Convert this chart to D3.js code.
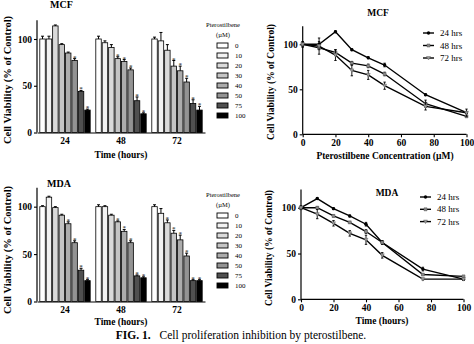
<!DOCTYPE html>
<html>
<head>
<meta charset="utf-8">
<script src="https://cdn.jsdelivr.net/npm/d3@7.9.0/dist/d3.min.js"></script>
<style>
  body { margin: 0; background: #fff; }
  svg { display: block; font-family: "Liberation Serif", "DejaVu Serif", serif; }
</style>
</head>
<body>
<svg id="fig" width="474" height="344"></svg>
<script>
// concentrations of pterostilbene (uM) and time points (hours)
const concentrations = [0, 10, 20, 30, 40, 50, 75, 100];
const times = [24, 48, 72];

// MCF cell viability (% of control)
const mcf24 = [100, 100, 114, 94, 85, 77, 44, 24];
const mcf48 = [100, 96, 91, 79, 76, 67, 34, 20];
const mcf72 = [100, 98, 88, 71, 66, 54, 31, 24];
const mcfErr24 = [3, 3, 1, 1, 1, 2, 1, 1];
const mcfErr48 = [3, 2, 3, 2, 2, 2, 4, 1];
const mcfErr72 = [2, 9, 6, 6, 5, 4, 4, 4];
const mcfStars24 = [50, 75, 100];
const mcfStars48 = [30, 40, 50, 75, 100];
const mcfStars72 = [30, 40, 50, 75, 100];

// MDA cell viability
const mda24 = [100, 110, 99, 91, 82, 62, 33, 22];
const mda48 = [100, 100, 91, 84, 74, 62, 27, 25];
const mda72 = [100, 93, 83, 72, 65, 48, 22, 22];
const mdaErr24 = [1, 1, 1, 1, 2, 2, 2, 1];
const mdaErr48 = [2, 1, 1, 1, 2, 2, 1, 1];
const mdaErr72 = [2, 5, 3, 3, 5, 3, 1, 1];
const mdaStars24 = [40, 50, 75, 100];
const mdaStars48 = [30, 40, 50, 75, 100];
const mdaStars72 = [20, 30, 40, 50, 75, 100];

const barFills = ['#ffffff', '#f2f2f2', '#dadada', '#c4c4c4', '#acacac', '#939393', '#505050', '#000000'];
const seriesNames = ['24 hrs', '48 hrs', '72 hrs'];

const svg = d3.select('#fig');

function buildRows(vals, errs, stars) {
    return times.map((t, i) => ({
        time: t,
        bars: concentrations.map((c, j) => ({
            conc: c, value: vals[i][j], err: errs[i][j], star: stars[i].includes(c)
        }))
    }));
}

// axis text in bold serif like the scan
function styleAxis(a) {
    a.attr('font-family', null).attr('font-size', null);
    a.selectAll('text').attr('font-size', 9.5).attr('font-weight', 'bold').attr('fill', '#000');
    a.selectAll('.tick line').attr('stroke-width', 1.1);
}

function drawBarPanel(o) {
    const g = svg.append('g');
    const x = d3.scaleBand().domain(times).range([o.x0, o.x1]).paddingInner(0.1).paddingOuter(0.05);
    const xi = d3.scaleBand().domain(concentrations).range([0, x.bandwidth()]).paddingInner(0.15);
    const y = d3.scaleLinear().domain([0, 120]).range([o.yBottom, o.yTop]);
    const color = d3.scaleOrdinal().domain(concentrations).range(barFills);

    // axes
    g.append('g')
        .attr('transform', `translate(${o.x0},0)`)
        .call(d3.axisLeft(y).tickValues([0, 50, 100]).tickSize(3).tickPadding(2))
        .call(a => a.select('.domain').attr('stroke-width', 1.2).attr('d', `M0,${y(120)}V${y(0)}`))
        .call(styleAxis);
    g.append('g')
        .attr('transform', `translate(0,${y(0)})`)
        .call(d3.axisBottom(x).tickSize(0).tickPadding(5))
        .call(a => a.select('.domain').attr('stroke-width', 1.2))
        .call(styleAxis);

    const groups = g.selectAll('.grp').data(o.rows).join('g')
        .attr('transform', d => `translate(${x(d.time)},0)`);

    groups.selectAll('rect').data(d => d.bars).join('rect')
        .attr('x', d => xi(d.conc))
        .attr('y', d => y(d.value))
        .attr('width', xi.bandwidth())
        .attr('height', d => y(0) - y(d.value))
        .attr('fill', d => color(d.conc))
        .attr('stroke', '#000')
        .attr('stroke-width', 0.8);

    // error bars (upper only)
    groups.selectAll('path.err').data(d => d.bars).join('path')
        .attr('class', 'err')
        .attr('fill', 'none')
        .attr('stroke', '#000')
        .attr('stroke-width', 1)
        .attr('d', d => {
            const cx = xi(d.conc) + xi.bandwidth() / 2;
            const top = y(d.value + d.err);
            return `M${cx},${y(d.value)}V${top}M${cx - 1.5},${top}H${cx + 1.5}`;
        });

    groups.selectAll('text.star').data(d => d.bars.filter(b => b.star)).join('text')
        .attr('class', 'star')
        .attr('x', d => xi(d.conc) + xi.bandwidth() / 2)
        .attr('y', d => y(d.value + d.err) + 1)
        .attr('text-anchor', 'middle')
        .attr('font-size', 7)
        .text('*');

    // labels
    g.append('text').attr('x', o.titleX).attr('y', o.titleY)
        .attr('font-size', 10).attr('font-weight', 'bold').text(o.title);
    g.append('text')
        .attr('transform', `translate(${o.yLabelX},${o.yLabelY}) rotate(-90)`)
        .attr('text-anchor', 'middle').attr('font-size', 10.5).attr('font-weight', 'bold')
        .text('Cell Viability (% of Control)');
    g.append('text').attr('x', o.xLabelX).attr('y', o.xLabelY)
        .attr('text-anchor', 'middle').attr('font-size', 9.5).attr('font-weight', 'bold')
        .text('Time (hours)');

    // legend
    const lg = g.append('g');
    lg.append('text').attr('x', o.legX + 6).attr('y', o.legY)
        .attr('text-anchor', 'middle').attr('font-size', 6.5).text('Pterostilbene');
    lg.append('text').attr('x', o.legX + 6).attr('y', o.legY + 10)
        .attr('text-anchor', 'middle').attr('font-size', 6.5).text('(\u00b5M)');
    const items = lg.selectAll('g.item').data(concentrations).join('g')
        .attr('transform', (d, i) => `translate(${o.legX},${o.legY + 20 + i * 10})`);
    items.append('rect').attr('x', 0).attr('y', -4).attr('width', 11).attr('height', 5)
        .attr('fill', d => color(d)).attr('stroke', '#000').attr('stroke-width', 0.9);
    items.append('text').attr('x', 18).attr('y', 1).attr('font-size', 7).text(d => d);
}

function drawLinePanel(o) {
    const g = svg.append('g');
    const x = d3.scaleLinear().domain([0, 100]).range([o.x0, o.x1]);
    const y = d3.scaleLinear().domain([0, 120]).range([o.yBottom, o.yTop]);

    g.append('g')
        .attr('transform', `translate(${o.x0},0)`)
        .call(d3.axisLeft(y).tickValues([0, 50, 100]).tickSize(3).tickPadding(2))
        .call(a => a.select('.domain').attr('stroke-width', 1.2).attr('d', `M0,${y(120)}V${y(0)}`))
        .call(styleAxis);
    g.append('g')
        .attr('transform', `translate(0,${y(0)})`)
        .call(d3.axisBottom(x).tickValues([0, 20, 40, 60, 80, 100]).tickSize(3).tickPadding(2))
        .call(a => a.select('.domain').attr('stroke-width', 1.2).attr('d', `M${o.x0},0H${o.x1}`))
        .call(styleAxis);

    const line = d3.line().x(d => x(d.conc)).y(d => y(d.value));
    o.series.forEach((s, k) => {
        const pts = concentrations.map((c, j) => ({ conc: c, value: s.values[j], err: s.errs[j] }));
        g.append('path').datum(pts).attr('d', line)
            .attr('fill', 'none').attr('stroke', '#000').attr('stroke-width', 1.4);
        g.selectAll(null).data(pts).join('path')
            .attr('fill', 'none').attr('stroke', '#000').attr('stroke-width', 0.9)
            .attr('d', d => {
                const cx = x(d.conc), t = y(d.value + d.err), b = y(d.value - d.err);
                return `M${cx},${t}V${b}M${cx - 1.2},${t}H${cx + 1.2}M${cx - 1.2},${b}H${cx + 1.2}`;
            });
        g.selectAll(null).data(pts).join('path')
            .attr('transform', d => `translate(${x(d.conc)},${y(d.value)})`)
            .call(p => marker(p, k));
    });

    g.append('text').attr('x', o.titleX).attr('y', o.titleY)
        .attr('text-anchor', 'middle').attr('font-size', 9.5).attr('font-weight', 'bold').text(o.title);
    g.append('text')
        .attr('transform', `translate(${o.yLabelX},${o.yLabelY}) rotate(-90)`)
        .attr('text-anchor', 'middle').attr('font-size', 9.5).attr('font-weight', 'bold')
        .text('Cell Viability (% of Control)');
    g.append('text').attr('x', o.xLabelX).attr('y', o.xLabelY)
        .attr('text-anchor', 'middle').attr('font-size', 9.5).attr('font-weight', 'bold')
        .text(o.xLabel);

    const items = g.selectAll('g.li').data(seriesNames).join('g')
        .attr('transform', (d, i) => `translate(${o.legX},${o.legY + i * o.legStep})`);
    items.append('line').attr('x1', 0).attr('x2', 11).attr('y1', 0).attr('y2', 0)
        .attr('stroke', '#000').attr('stroke-width', 1.4);
    items.append('path').attr('transform', 'translate(5.5,0)').each(function (d, i) { marker(d3.select(this), i); });
    items.append('text').attr('x', 17).attr('y', 3).attr('font-size', 9).text(d => d);
}

function marker(sel, k) {
    if (k === 0) {
        sel.attr('d', d3.symbol(d3.symbolCircle, 9)).attr('fill', '#000');
    } else if (k === 1) {
        sel.attr('d', d3.symbol(d3.symbolSquare, 9)).attr('fill', '#888').attr('stroke', '#555').attr('stroke-width', 0.5);
    } else {
        sel.attr('d', 'M-2,-1.5L2,-1.5L0,2Z').attr('fill', '#999').attr('stroke', '#666').attr('stroke-width', 0.5);
    }
}

drawBarPanel({
    rows: buildRows([mcf24, mcf48, mcf72], [mcfErr24, mcfErr48, mcfErr72], [mcfStars24, mcfStars48, mcfStars72]),
    x0: 37, x1: 205, yBottom: 132.5, yTop: 20.3,
    title: 'MCF', titleX: 50, titleY: 8,
    yLabelX: 11, yLabelY: 80, xLabelX: 121, xLabelY: 158,
    legX: 217, legY: 27
});
drawBarPanel({
    rows: buildRows([mda24, mda48, mda72], [mdaErr24, mdaErr48, mdaErr72], [mdaStars24, mdaStars48, mdaStars72]),
    x0: 37, x1: 205, yBottom: 301.5, yTop: 187.7,
    title: 'MDA', titleX: 47, titleY: 187,
    yLabelX: 11, yLabelY: 250, xLabelX: 121, xLabelY: 325,
    legX: 217, legY: 197
});
drawLinePanel({
    series: [
        { values: mcf24, errs: mcfErr24 },
        { values: mcf48, errs: mcfErr48 },
        { values: mcf72, errs: mcfErr72 }
    ],
    x0: 302.7, x1: 466.5, yBottom: 134.3, yTop: 26.3,
    title: 'MCF', titleX: 378, titleY: 16,
    yLabelX: 274, yLabelY: 82, xLabelX: 385, xLabelY: 159,
    xLabel: 'Pterostilbene Concentration (\u00b5M)',
    legX: 423, legY: 33, legStep: 12.5
});
drawLinePanel({
    series: [
        { values: mda24, errs: mdaErr24 },
        { values: mda48, errs: mdaErr48 },
        { values: mda72, errs: mdaErr72 }
    ],
    x0: 301, x1: 463.5, yBottom: 299.3, yTop: 189.4,
    title: 'MDA', titleX: 387, titleY: 196,
    yLabelX: 272, yLabelY: 248, xLabelX: 382, xLabelY: 324,
    xLabel: 'Time (hours)',
    legX: 420, legY: 197, legStep: 12.3
});

// caption
const cap = svg.append('text').attr('x', 241).attr('y', 339).attr('text-anchor', 'middle').attr('font-size', 11.5);
cap.append('tspan').attr('font-weight', 'bold').text('FIG. 1.');
cap.append('tspan').attr('dx', 9).text('Cell proliferation inhibition by pterostilbene.');
</script>
</body>
</html>
